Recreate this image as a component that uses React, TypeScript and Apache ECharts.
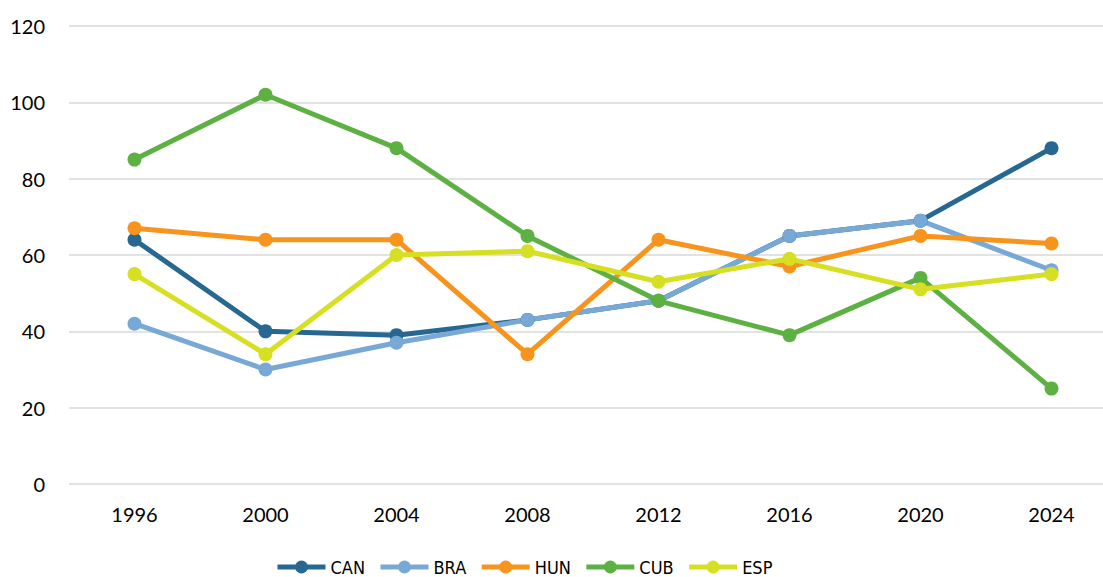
import React, { useEffect, useRef } from "react";
import * as echarts from "echarts";

const years = ["1996", "2000", "2004", "2008", "2012", "2016", "2020", "2024"];
const CAN = [64, 40, 39, 43, 48, 65, 69, 88];
const BRA = [42, 30, 37, 43, 48, 65, 69, 56];
const HUN = [67, 64, 64, 34, 64, 57, 65, 63];
const CUB = [85, 102, 88, 65, 48, 39, 54, 25];
const ESP = [55, 34, 60, 61, 53, 59, 51, 55];

const seriesDefs = [
  { name: "CAN", data: CAN, color: "#276893" },
  { name: "BRA", data: BRA, color: "#78a9d6" },
  { name: "HUN", data: HUN, color: "#f7941d" },
  { name: "CUB", data: CUB, color: "#5db142" },
  { name: "ESP", data: ESP, color: "#d6df22" },
];

export default function App() {
  const ref = useRef<HTMLDivElement>(null);
  useEffect(() => {
    document.body.style.overflow = "hidden";
    if (!ref.current) return;
    const chart = echarts.init(ref.current, null, { renderer: "svg" });
    const font = "Lato, 'Noto Sans', sans-serif";
    const legendFont = "'Liberation Sans Narrow', 'DejaVu Sans Condensed', Lato, sans-serif";
    chart.setOption({
      animation: false,
      backgroundColor: "#ffffff",
      textStyle: { fontFamily: font },
      grid: { left: 69, right: 0, top: 26, bottom: 93 },
      legend: {
        left: 270,
        top: 552,
        itemWidth: 48,
        itemHeight: 16,
        itemGap: 13,
        lineStyle: { width: 5 },
        textStyle: { fontFamily: legendFont, fontSize: 18, lineHeight: 20, color: "#000" },
        data: seriesDefs.map((s) => s.name),
      },
      xAxis: {
        type: "category",
        data: years,
        boundaryGap: true,
        axisLine: { show: false },
        axisTick: { show: false },
        axisLabel: { fontFamily: font, fontSize: 20, color: "#000", margin: 20 },
      },
      yAxis: {
        type: "value",
        min: 0,
        max: 120,
        interval: 20,
        axisLine: { show: false },
        axisTick: { show: false },
        axisLabel: { fontFamily: font, fontSize: 20, color: "#000", margin: 24 },
        splitLine: { lineStyle: { color: "#d9d9d9", width: 1.5 } },
      },
      series: seriesDefs.map((s) => ({
        name: s.name,
        type: "line",
        data: s.data,
        symbol: "circle",
        symbolSize: 14,
        color: s.color,
        lineStyle: { width: 5, color: s.color },
        itemStyle: { color: s.color },
      })),
    });
    return () => chart.dispose();
  }, []);
  return (
    <div
      ref={ref}
      style={{ position: "fixed", left: 0, top: 0, width: 1117, height: 577 }}
    />
  );
}
